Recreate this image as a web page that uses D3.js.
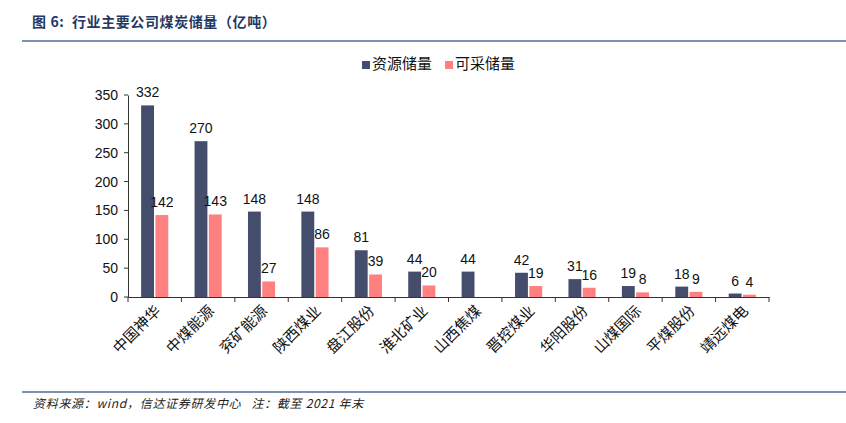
<!DOCTYPE html>
<html>
<head>
<meta charset="utf-8">
<script src="https://cdn.jsdelivr.net/npm/d3@7"></script>
<style>
  body { margin: 0; background: #fff; }
  svg { font-family: "Liberation Sans", Arial, "Noto Sans CJK SC", sans-serif; }
</style>
</head>
<body>
<div id="chart"></div>
<script>
var companies = ['中国神华', '中煤能源', '兖矿能源', '陕西煤业', '盘江股份', '淮北矿业', '山西焦煤', '晋控煤业', '华阳股份', '山煤国际', '平煤股份', '靖远煤电']
var resources = [332, 270, 148, 148, 81, 44, 44, 42, 31, 19, 18, 6]
var recoverable = [142, 143, 27, 86, 39, 20, null, 19, 16, 8, 9, 4]
var seriesNames = ['资源储量', '可采储量']
var yTicks = [0, 50, 100, 150, 200, 250, 300, 350]

var width = 846
var height = 423
var margin = { top: 95, left: 128, right: 77, bottom: 126 }

var svg = d3
  .select('#chart')
  .append('svg')
  .attr('width', width)
  .attr('height', height)

// title + rules
svg
  .append('text')
  .attr('x', 32)
  .attr('y', 27)
  .attr('font-size', 14)
  .attr('font-weight', 'bold')
  .attr('fill', '#1f3864')
  .attr('letter-spacing', 0.6)
  .style('white-space', 'pre')
  .attr('font-family', '"Noto Sans CJK SC", sans-serif')
  .text('图 6:  行业主要公司煤炭储量（亿吨）')

svg.append('line')
  .attr('x1', 22).attr('x2', width).attr('y1', 41).attr('y2', 41)
  .attr('stroke', '#4f6d9a').attr('stroke-width', 1.5)

svg.append('line')
  .attr('x1', 22).attr('x2', width).attr('y1', 392).attr('y2', 392)
  .attr('stroke', '#4f6d9a').attr('stroke-width', 1.5)

svg
  .append('text')
  .attr('x', 33)
  .attr('y', 408)
  .attr('font-size', 12)
  .attr('font-style', 'italic')
  .attr('fill', '#222')
  .attr('letter-spacing', 0.7)
  .style('white-space', 'pre')
  .attr('font-family', '"Noto Sans CJK SC", sans-serif')
  .text('资料来源：wind，信达证券研发中心   注：截至 2021 年末')

var g = svg.append('g')

var x = d3
  .scaleBand()
  .domain(companies)
  .range([margin.left, width - margin.right])

var x1 = d3.scaleBand().domain(seriesNames).range([0, 30]).padding(0.1)

var y = d3
  .scaleLinear()
  .domain([0, 350])
  .range([height - margin.bottom, margin.top])

var colors = { '资源储量': '#454d6d', '可采储量': '#ff8080' }

// bars
companies.forEach(function(c, i) {
  var vals = [resources[i], recoverable[i]]
  var cx = x(c) + x.bandwidth() / 2 - 15
  vals.forEach(function(v, j) {
    if (v === null) return
    var name = seriesNames[j]
    g.append('rect')
      .attr('x', cx + x1(name))
      .attr('y', y(v))
      .attr('width', x1.bandwidth())
      .attr('height', y(0) - y(v))
      .attr('fill', colors[name])
    g.append('text')
      .attr('x', cx + x1(name) + x1.bandwidth() / 2)
      .attr('y', y(v) - 8)
      .attr('text-anchor', 'middle')
      .attr('font-size', 14)
      .attr('fill', '#111')
      .text(v)
  })
})

// y axis
var yAxis = g
  .append('g')
  .attr('transform', 'translate(' + margin.left + ',0)')
  .call(d3.axisLeft(y).tickValues(yTicks).tickSize(0).tickPadding(10))
yAxis.select('.domain').attr('stroke', '#333')
yAxis.selectAll('text').attr('font-size', 14).attr('fill', '#111')
yAxis
  .selectAll('.ytick')
  .data(yTicks)
  .enter()
  .append('line')
  .attr('x1', -4)
  .attr('x2', 0)
  .attr('y1', d => y(d))
  .attr('y2', d => y(d))
  .attr('stroke', '#333')

// x axis
var xAxis = g
  .append('g')
  .attr('transform', 'translate(0,' + y(0) + ')')
  .call(d3.axisBottom(x).tickSize(0).tickFormat(''))
xAxis.select('.domain').attr('stroke', '#333')
xAxis
  .selectAll('.xtick')
  .data(companies.concat(['end']))
  .enter()
  .append('line')
  .attr('x1', (d, i) => margin.left + i * x.step())
  .attr('x2', (d, i) => margin.left + i * x.step())
  .attr('y1', 0)
  .attr('y2', 5)
  .attr('stroke', '#333')

companies.forEach(function(c) {
  g.append('text')
    .attr('transform', 'translate(' + (x(c) + x.bandwidth() / 2 + 4) + ',' + (y(0) + 12) + ') rotate(-45)')
    .attr('text-anchor', 'end')
    .attr('dominant-baseline', 'middle')
    .attr('font-size', 15)
    .attr('font-family', '"Noto Sans CJK SC", sans-serif')
    .attr('fill', '#111')
    .text(c)
})

// legend
var legend = svg.append('g').attr('transform', 'translate(362,65)')
seriesNames.forEach(function(name, i) {
  var lg = legend.append('g').attr('transform', 'translate(' + i * 83 + ',0)')
  lg.append('rect').attr('x', 0).attr('y', -4).attr('width', 8).attr('height', 8).attr('fill', colors[name])
  lg.append('text')
    .attr('x', 10)
    .attr('y', 0)
    .attr('dominant-baseline', 'middle')
    .attr('font-size', 15)
    .attr('font-family', '"Noto Sans CJK SC", sans-serif')
    .attr('fill', '#111')
    .text(name)
})
</script>
</body>
</html>
